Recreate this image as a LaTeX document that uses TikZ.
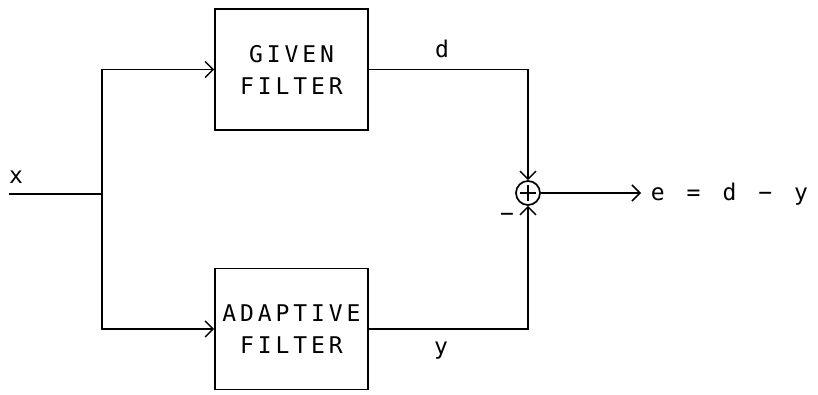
\documentclass[tikz,border=0pt]{standalone}
\usepackage{fontspec}
\newfontfamily\plotsp[LetterSpace=17]{DejaVu Sans Mono}
\newfontfamily\plotch{DejaVu Sans Mono}
\usetikzlibrary{arrows.meta}
\begin{document}
\begin{tikzpicture}[x=1pt,y=-1pt,line width=1.7pt,
  arr/.style={-{Straight Barb[length=8pt,width=16pt,line width=1.5pt]}},
  blk/.style={draw,minimum width=153pt,minimum height=121pt,inner sep=0pt,align=center,
    font=\plotsp\fontsize{23}{32}\selectfont},
  lbl/.style={font=\plotch\fontsize{23}{28}\selectfont,inner sep=0pt,anchor=base},
  sumnode/.style={draw,circle,minimum size=24pt,inner sep=0pt,
    path picture={\draw[line width=1.3pt] ([xshift=-8pt]path picture bounding box.center) -- ([xshift=8pt]path picture bounding box.center);
                  \draw[line width=1.3pt] ([yshift=-8pt]path picture bounding box.center) -- ([yshift=8pt]path picture bounding box.center);}}]
\useasboundingbox (0,0) rectangle (818,394);
\node[blk] (given) at (291.5,69.5) {GIVEN\\FILTER};
\node[blk] (adapt) at (291.5,329) {ADAPTIVE\\FILTER};
\node[sumnode] (sum) at (528,193) {};
\coordinate (in) at (9,194);
\coordinate (j) at (102,194);
\coordinate (out) at (641,193);
\draw (in) -- (j);
\draw[arr] (j) |- (given.west);
\draw[arr] (j) |- (adapt.west);
\draw[arr] (given.east) -| (sum.north);
\draw[arr] (adapt.east) -| (sum.south);
\draw[arr] (sum.east) -- (out);
\node[lbl] (lx) at (16,183) {x};
\node[lbl] (ld) at (442,57) {d};
\node[lbl] (ly) at (441,354) {y};
\node[lbl] (lm) at (507,221) {−};
\node[lbl,anchor=base west] (le) at (650,200) {e\hspace*{22pt}=\hspace*{22pt}d\hspace*{22pt}−\hspace*{22pt}y};
\end{tikzpicture}
\end{document}
